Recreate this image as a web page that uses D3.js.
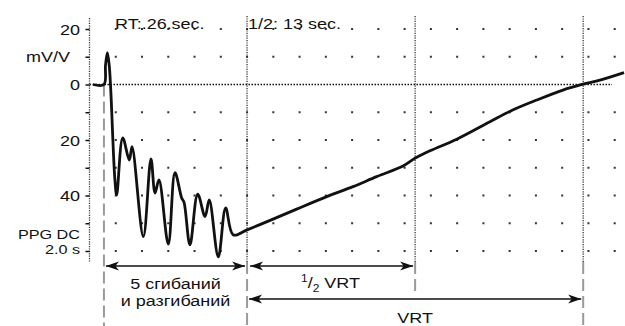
<!DOCTYPE html>
<html>
<head>
<meta charset="utf-8">
<script src="https://cdn.jsdelivr.net/npm/d3@7"></script>
<style>
  body { margin: 0; background: #fff; }
  svg { display: block; font-family: "Liberation Sans", Arial, sans-serif; }
</style>
</head>
<body>
<svg id="chart" width="625" height="326"></svg>
<script>
// PPG trace (time in s, value in mV/V, positive = downward as drawn)
const curveTime = [0.27, 1.10, 1.22, 1.36, 1.50, 1.62, 1.93, 2.07, 2.53, 3.03, 3.24, 4.10, 4.68, 4.99, 5.29,
  6.00, 6.51, 7.02, 7.20, 7.65, 8.24, 8.80, 9.12, 9.81, 10.37, 10.95, 12.0, 13.98, 15.78, 18.07, 20.07,
  21.87, 23.88, 24.79, 25.93, 27.97, 30.5, 32.23, 34.06, 36.06, 37.58, 38.88, 40.71];
const curveValue = [0, 0, -7, -11.5, -7, 2, 34, 39.8, 19.2, 27.2, 22.4, 54.8, 26.8, 39.1, 34.4,
  57.5, 31.8, 40.9, 42.5, 57.8, 39.5, 47.6, 41.6, 62.1, 44.5, 54.2, 52.4, 48.5, 44.9, 40.4, 36.8,
  33.2, 29.4, 26.6, 23.9, 19.7, 13.4, 9.2, 5.6, 2.0, -0.1, -1.6, -4.3];

const yTicks = [-20, -10, 0, 10, 20, 30, 40, 50, 60];
const yTickLabels = { "-20": "20", "0": "0", "20": "20", "40": "40" };
const gridTimes = d3.range(2, 41, 2);          // 2.0 s per division
const gridValues = [-20, -10, 10, 20, 30, 40, 50, 60];

// event markers (s)
const tStart = 1.1;     // exercise start
const tEnd = 12.0;      // end of 5 flexions
const tHalf = 24.8;     // 1/2 VRT
const tVRT = 37.6;      // VRT

const svg = d3.select("#chart");
const sx = 1.2; // horizontal stretch of the lettering
const ink = "#111";

const x = d3.scaleLinear().domain([0, 40]).range([89.5, 614.7]);
const y = d3.scaleLinear().domain([-20, 60]).range([29, 251]);

// grid dots
gridValues.forEach(v => {
    svg.append("g")
        .selectAll("rect")
        .data(gridTimes)
        .join("rect")
        .attr("x", d => x(d) - 1)
        .attr("y", y(v) - 1)
        .attr("width", 2)
        .attr("height", 2)
        .attr("fill", "#333");
});

// zero line
svg.append("line")
    .attr("x1", x(0)).attr("x2", x(39.8))
    .attr("y1", y(0)).attr("y2", y(0))
    .attr("stroke", "#111")
    .attr("stroke-width", 1.5)
    .attr("stroke-dasharray", "1.5,1.5");

// vertical dotted markers
[tEnd, tHalf, tVRT].forEach(t => {
    svg.append("line")
        .attr("x1", x(t)).attr("x2", x(t))
        .attr("y1", 16).attr("y2", 262)
        .attr("stroke", "#333")
        .attr("stroke-width", 1.3)
        .attr("stroke-dasharray", "1.2,1.2");
});

// grey dashed extensions
const dashed = [
    { t: tStart, y0: y(0), y1: 326 },
    { t: tEnd, y0: 262, y1: 326 },
    { t: tHalf, y0: 262, y1: 294 },
    { t: tVRT, y0: 262, y1: 326 }
];
svg.append("g")
    .selectAll("line")
    .data(dashed)
    .join("line")
    .attr("x1", d => x(d.t)).attr("x2", d => x(d.t))
    .attr("y1", d => d.y0).attr("y2", d => d.y1)
    .attr("stroke", "#9a9a9a")
    .attr("stroke-width", 2)
    .attr("stroke-dasharray", "12,5");

// y axis: dotted spine + ticks
svg.append("line")
    .attr("x1", x(0)).attr("x2", x(0))
    .attr("y1", 18).attr("y2", 262)
    .attr("stroke", "#333")
    .attr("stroke-width", 1.3)
    .attr("stroke-dasharray", "1.2,1.2");

const yAxis = svg.append("g")
    .attr("transform", `translate(${x(0)},0)`)
    .call(d3.axisLeft(y).tickValues(yTicks).tickSize(4).tickFormat(""));
yAxis.select(".domain").remove();
yAxis.selectAll(".tick line").attr("stroke", ink).attr("stroke-width", 1.5);

function label(px, py, txt, anchor, size) {
    return svg.append("text")
        .attr("transform", `translate(${px},${py}) scale(${sx},1)`)
        .attr("text-anchor", anchor)
        .style("font-size", (size || 15) + "px")
        .attr("fill", ink)
        .text(txt);
}

yTicks.forEach(v => {
    const t = yTickLabels[String(v)];
    if (t !== undefined) label(80, y(v) + 5.5, t, "end");
});
label(70, 62, "mV/V", "end");

// axis caption, two lines
label(80, 238.5, "PPG DC", "end", 13.5);
label(80, 253.5, "2.0 s", "end", 13.5);

label(115, 29, "RT:.26.sec.", "start");
label(248, 29, "1/2: 13 sec.", "start");

// trace
const line = d3.line()
    .x((d, i) => x(curveTime[i]))
    .y(d => y(d))
    .curve(d3.curveCatmullRom.alpha(0.5));
svg.append("path")
    .datum(curveValue)
    .attr("d", line)
    .attr("fill", "none")
    .attr("stroke", "#111")
    .attr("stroke-width", 2.8)
    .attr("stroke-linejoin", "round");

// arrows
function head(px, py, dir) {
    const L = 13, W = 4.5, N = 3.5;
    const p = [[0, 0], [-L, -W], [-L + N, 0], [-L, W]]
        .map(([a, b]) => [px + dir * a, py + b]);
    svg.append("path")
        .attr("d", "M" + p.map(q => q.join(",")).join("L") + "Z")
        .attr("fill", ink);
}
function arrow(t0, t1, py, both, pad0, pad1) {
    const xa = x(t0) + pad0, xb = x(t1) - pad1;
    svg.append("line")
        .attr("x1", xa).attr("x2", xb)
        .attr("y1", py).attr("y2", py)
        .attr("stroke", ink)
        .attr("stroke-width", 1.5);
    head(xb, py, 1);
    if (both) head(xa, py, -1);
}
arrow(tStart, tEnd, 266, true, 2, 2);
arrow(tEnd, tHalf, 266, true, 3, 2);
arrow(tEnd, tVRT, 299, true, 2, 2);

// two-line caption under the exercise phase
const ex = label((x(tStart) + x(tEnd)) / 2, 289, "", "middle");
ex.append("tspan").attr("x", 0).text("5 сгибаний");
ex.append("tspan").attr("x", 0).attr("dy", 17).text("и разгибаний");

const frac = svg.append("text")
    .attr("transform", `translate(301,288) scale(${sx},1)`)
    .attr("fill", ink)
    .style("font-size", "15px");
frac.append("tspan").style("font-size", "10px").attr("dy", -6).text("1");
frac.append("tspan").attr("dy", 6).text("/");
frac.append("tspan").style("font-size", "10px").attr("dy", 4).text("2");
frac.append("tspan").attr("dy", -4).text(" VRT");

label((x(tEnd) + x(tVRT)) / 2, 323, "VRT", "middle");
</script>
</body>
</html>
